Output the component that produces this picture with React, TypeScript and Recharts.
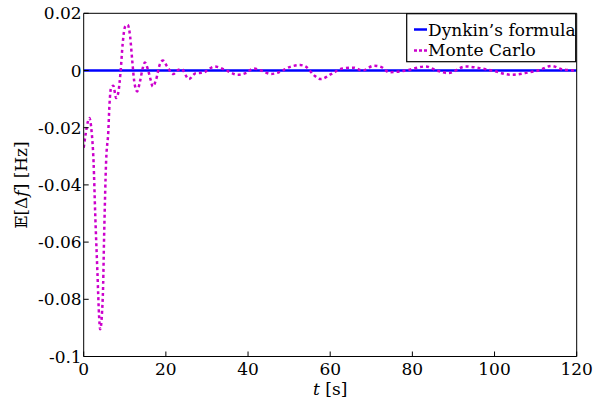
import React from "react";
import { Line, LineChart, XAxis, YAxis, Label } from "recharts";

// time axis (s) and Monte Carlo estimate of E[Δf] (Hz)
const tValues = [
  0, 0.5, 1, 1.4, 1.9, 2.4, 2.8, 3.35, 3.75, 4.0, 4.65, 5.0, 5.45, 6.0, 6.25,
  6.7, 7.2, 7.9, 8.4, 9.0, 9.5, 10.1, 10.7, 11.3, 11.8, 12.3, 13.0, 13.7,
  14.4, 14.9, 15.7, 16.3, 16.8, 17.6, 18.5, 19.3, 20.3, 21.8, 23.0, 23.8,
  25.6, 27.2, 29.1, 31.9, 34.7, 37.5, 39.6, 41.3, 43.2, 45.6, 47.2, 50.1,
  52.7, 54.2, 56.1, 57.7, 60.2, 63.0, 65.8, 67.8, 70.7, 72.5, 74.3, 78.4,
  83.2, 85.9, 88.8, 92.9, 96.1, 99.3, 104.2, 108.2, 110.6, 113.9, 116.7, 120,
];
const monteCarlo = [
  -0.027, -0.022, -0.018, -0.0166, -0.021, -0.032, -0.05, -0.071, -0.086,
  -0.0905, -0.079, -0.056, -0.032, -0.021, -0.0126, -0.0058, -0.0053,
  -0.0096, -0.0079, 0, 0.0096, 0.0154, 0.016, 0.0119, 0.0037, -0.0038,
  -0.0073, -0.0038, 0.001, 0.0028, 0, -0.0033, -0.0056, -0.0033, 0.002,
  0.0035, 0.0014, -0.0012, 0.0002, 0.0005, -0.003, -0.001, -0.0007, 0.0014,
  0, -0.0015, -0.0008, 0.0007, 0, -0.0012, -0.0008, 0.0012, 0.0019, 0.0012,
  -0.0017, -0.003, -0.0013, 0.0007, 0.001, 0, 0.0017, 0.0012, -0.0006, 0,
  0.0014, 0, -0.0009, 0.0014, 0.0009, 0, -0.0015, -0.0007, 0, 0.0016, 0.0003,
  0,
];
// Dynkin's formula gives zero mean everywhere
const dynkinT = [0, 120];
const dynkinValues = [0, 0];

const xTicks = [0, 20, 40, 60, 80, 100, 120];
const yTicks = [-0.1, -0.08, -0.06, -0.04, -0.02, 0, 0.02];

const mcData = tValues.map((t, i) => ({ t, mc: monteCarlo[i] }));
const dynkinData = dynkinT.map((t, i) => ({ t, dynkin: dynkinValues[i] }));

// only DejaVu Serif resolves to a serif face in the sandbox
const FONT = "DejaVu Serif";
const FS = 17;
const txt = { fontFamily: FONT };
const tickStyle = { fill: "#000", fontSize: FS, fontFamily: FONT, style: txt };
const BLUE = "#0000ff";
const MAGENTA = "#cc00cc";

function ChartLegend() {
  return (
    <svg
      width={171}
      height={50}
      style={{ position: "absolute", left: 406, top: 13 }}
    >
      <rect x={0.7} y={0.7} width={169} height={48} fill="#fff" stroke="#000" strokeWidth={1.2} />
      <line x1={8} x2={21} y1={16.5} y2={16.5} stroke={BLUE} strokeWidth={2.5} />
      <text x={22} y={23} style={txt} fontSize={FS} fill="#000">
        Dynkin’s formula
      </text>
      <line x1={8} x2={21} y1={37.5} y2={37.5} stroke={MAGENTA} strokeWidth={2.5} strokeDasharray="3 2" />
      <text x={22} y={43} style={txt} fontSize={FS} fill="#000">
        Monte Carlo
      </text>
    </svg>
  );
}

export default function App() {
  return (
    <div style={{ position: "absolute", left: 0, top: 0, width: 593, height: 400, background: "#fff" }}>
      <LineChart
        width={593}
        height={400}
        margin={{ top: 12.3, right: 15.3, bottom: 0, left: 0 }}
      >
        <XAxis
          dataKey="t"
          type="number"
          domain={[0, 120]}
          ticks={xTicks}
          height={43.5}
          tickSize={-5}
          tickMargin={11}
          tick={tickStyle}
          stroke="#000"
          allowDataOverflow
        >
          <Label
            content={({ viewBox }: any) => (
              <text
                x={viewBox.x + viewBox.width / 2}
                y={viewBox.y + 38}
                textAnchor="middle"
                style={txt}
                fontSize={FS}
                fill="#000"
              >
                <tspan fontStyle="italic">t</tspan> [s]
              </text>
            )}
          />
        </XAxis>
        <XAxis
          xAxisId="top"
          orientation="top"
          type="number"
          domain={[0, 120]}
          ticks={xTicks}
          height={1}
          tickSize={-5}
          tick={false}
          stroke="#000"
          allowDataOverflow
        />
        <YAxis
          type="number"
          domain={[-0.1, 0.02]}
          ticks={yTicks}
          width={83.7}
          tickSize={-5}
          tickMargin={7}
          tick={tickStyle}
          stroke="#000"
          allowDataOverflow
        >
          <Label
            content={({ viewBox }: any) => {
              const cx = 27;
              const cy = viewBox.y + viewBox.height / 2;
              return (
                <text
                  x={cx}
                  y={cy}
                  transform={`rotate(-90 ${cx} ${cy})`}
                  textAnchor="middle"
                  style={txt}
                  fontSize={FS}
                  fill="#000"
                >
                  𝔼[Δ<tspan fontStyle="italic">f</tspan>] [Hz]
                </text>
              );
            }}
          />
        </YAxis>
        <YAxis
          yAxisId="right"
          orientation="right"
          type="number"
          domain={[-0.1, 0.02]}
          ticks={yTicks}
          width={1}
          tickSize={-5}
          tick={false}
          stroke="#000"
          allowDataOverflow
        />
        <Line
          data={dynkinData}
          dataKey="dynkin"
          name="Dynkin's formula"
          type="linear"
          stroke={BLUE}
          strokeWidth={2.5}
          dot={false}
          isAnimationActive={false}
        />
        <Line
          data={mcData}
          dataKey="mc"
          name="Monte Carlo"
          type="monotone"
          stroke={MAGENTA}
          strokeWidth={2.5}
          strokeDasharray="3 3"
          dot={false}
          isAnimationActive={false}
        />
      </LineChart>
      <ChartLegend />
    </div>
  );
}
